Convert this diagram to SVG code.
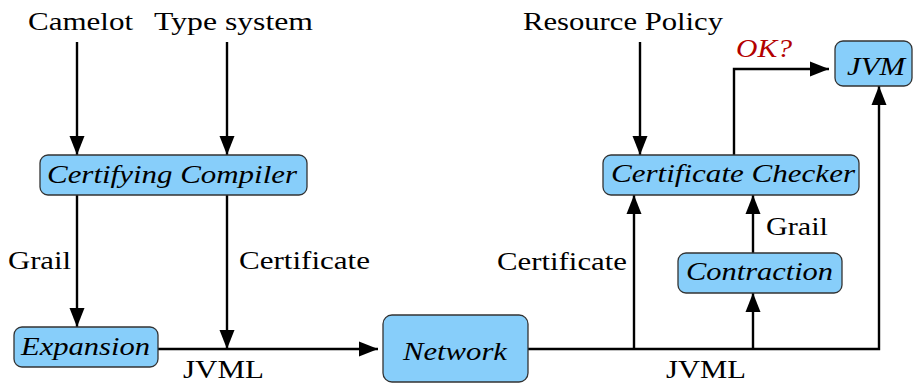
<svg xmlns="http://www.w3.org/2000/svg" width="915" height="383" viewBox="0 0 915 383">
  <style>
    .box { fill: #87cefa; stroke: #333333; stroke-width: 1.3; }
    .node { font-family: "Liberation Serif", "Times New Roman", serif; font-style: italic; font-size: 26px; fill: #000000; }
    .lbl { font-family: "Liberation Serif", "Times New Roman", serif; font-size: 26px; fill: #000000; }
    .ok { font-family: "Liberation Serif", "Times New Roman", serif; font-style: italic; font-size: 26px; fill: #b30000; }
    .edge { fill: none; stroke: #000000; stroke-width: 2.4; }
  </style>
  <defs>
    <marker id="arrow" markerUnits="userSpaceOnUse" markerWidth="20" markerHeight="16" refX="19" refY="8" orient="auto">
      <path d="M0,0.5 L19,8 L0,15.5 Z" fill="#000000"/>
    </marker>
  </defs>

  <rect width="915" height="383" fill="#ffffff"/>

  <!-- free-standing labels -->
  <g id="labels">
    <text class="lbl" x="28" y="30" textLength="105" lengthAdjust="spacingAndGlyphs">Camelot</text>
    <text class="lbl" x="154" y="30" textLength="159" lengthAdjust="spacingAndGlyphs">Type system</text>
    <text class="lbl" x="523" y="30" textLength="200" lengthAdjust="spacingAndGlyphs">Resource Policy</text>
    <text class="lbl" x="8" y="269" textLength="63" lengthAdjust="spacingAndGlyphs">Grail</text>
    <text class="lbl" x="239" y="269" textLength="131" lengthAdjust="spacingAndGlyphs">Certificate</text>
    <text class="lbl" x="497" y="270" textLength="130" lengthAdjust="spacingAndGlyphs">Certificate</text>
    <text class="lbl" x="766" y="235" textLength="62" lengthAdjust="spacingAndGlyphs">Grail</text>
    <text class="lbl" x="183" y="378" textLength="81" lengthAdjust="spacingAndGlyphs">JVML</text>
    <text class="lbl" x="666" y="378" textLength="80" lengthAdjust="spacingAndGlyphs">JVML</text>
    <text class="ok" x="736" y="57" textLength="56" lengthAdjust="spacingAndGlyphs">OK?</text>
  </g>

  <!-- connectors -->
  <g id="connectors">
    <path class="edge" d="M77,42 V155" marker-end="url(#arrow)"/>
    <path class="edge" d="M227,42 V155" marker-end="url(#arrow)"/>
    <path class="edge" d="M77,195 V327" marker-end="url(#arrow)"/>
    <path class="edge" d="M227,195 V349" marker-end="url(#arrow)"/>
    <path class="edge" d="M158,349 H378" marker-end="url(#arrow)"/>
    <path class="edge" d="M528,349 H879 V86" marker-end="url(#arrow)"/>
    <path class="edge" d="M634,349 V195" marker-end="url(#arrow)"/>
    <path class="edge" d="M753,349 V293" marker-end="url(#arrow)"/>
    <path class="edge" d="M753,253 V195" marker-end="url(#arrow)"/>
    <path class="edge" d="M640,42 V155" marker-end="url(#arrow)"/>
    <path class="edge" d="M734,155 V69 H829" marker-end="url(#arrow)"/>
  </g>

  <g id="certifying-compiler">
    <rect class="box" x="40" y="155" width="267" height="40" rx="8"/>
    <text class="node" x="47" y="183" textLength="250" lengthAdjust="spacingAndGlyphs">Certifying Compiler</text>
  </g>

  <g id="expansion">
    <rect class="box" x="14" y="327" width="144" height="40" rx="8"/>
    <text class="node" x="21" y="355" textLength="129" lengthAdjust="spacingAndGlyphs">Expansion</text>
  </g>

  <g id="network">
    <rect class="box" x="383" y="315" width="145" height="67" rx="9"/>
    <text class="node" x="403" y="360" textLength="104" lengthAdjust="spacingAndGlyphs">Network</text>
  </g>

  <g id="certificate-checker">
    <rect class="box" x="603" y="155" width="256" height="40" rx="8"/>
    <text class="node" x="611" y="182" textLength="244" lengthAdjust="spacingAndGlyphs">Certificate Checker</text>
  </g>

  <g id="contraction">
    <rect class="box" x="678" y="253" width="164" height="40" rx="8"/>
    <text class="node" x="686" y="280" textLength="147" lengthAdjust="spacingAndGlyphs">Contraction</text>
  </g>

  <g id="jvm">
    <rect class="box" x="835" y="41" width="77" height="45" rx="8"/>
    <text class="node" x="847" y="75" textLength="58" lengthAdjust="spacingAndGlyphs">JVM</text>
  </g>
</svg>
